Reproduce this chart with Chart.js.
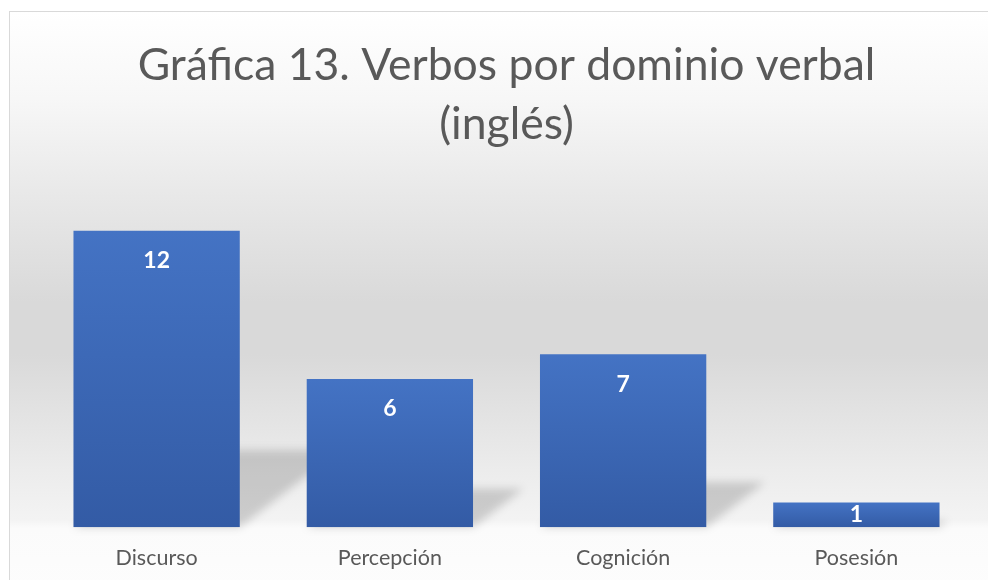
<!DOCTYPE html>
<html>
<head>
<meta charset="utf-8">
<script src="https://cdn.jsdelivr.net/npm/chart.js@4.4.1/dist/chart.umd.min.js"></script>
<style>
    html, body { margin: 0; padding: 0; background: #fff; }
    body { width: 988px; height: 580px; position: relative; overflow: hidden; }
    .frame {
        position: absolute; left: 9px; top: 11px; width: 990px; height: 580px;
        border: 1px solid #d9d9d9;
        background: linear-gradient(to bottom,
            #ffffff 0%, #f7f7f7 15%, #e8e8e8 32%, #d9d9d9 50%, #d9d9d9 59%,
            #ececec 79%, #f3f3f3 87.5%, #fbfbfb 89%, #fdfdfd 100%);
    }
    #chart { position: absolute; left: 0; top: 0; }
</style>
</head>
<body>
<div class="frame"></div>
<canvas id="chart" width="988" height="580"></canvas>
<script>
// data
const categories = ["Discurso", "Percepción", "Cognición", "Posesión"];
const counts = [12, 6, 7, 1];
const titleLines = ["Gráfica 13. Verbos por dominio verbal", "(inglés)"];

// bar fill: each bar goes light blue at top to darker at base
function barFill(ctx) {
    const chart = ctx.chart;
    if (!chart.chartArea || !chart.scales.y) return "#3d68b6";
    const y = chart.scales.y;
    const top = y.getPixelForValue(ctx.raw);
    const base = y.getPixelForValue(0);
    const g = chart.ctx.createLinearGradient(0, top, 0, base);
    g.addColorStop(0, "#4473c4");
    g.addColorStop(1, "#335ba5");
    return g;
}

// soft perspective shadow cast up and to the right of each bar
const barShadow = {
    id: "barShadow",
    beforeDatasetsDraw(chart) {
        const c = chart.ctx;
        chart.getDatasetMeta(0).data.forEach(bar => {
            const h = bar.base - bar.y;
            const sh = h * 0.26;
            const dx = sh * 1.3;
            const half = bar.width / 2;
            c.save();
            c.filter = "blur(4px)";
            c.fillStyle = "rgba(0,0,0,0.16)";
            c.beginPath();
            c.moveTo(bar.x - half, bar.base);
            c.lineTo(bar.x + half, bar.base);
            c.lineTo(bar.x + half + dx, bar.base - sh);
            c.lineTo(bar.x - half + dx, bar.base - sh);
            c.closePath();
            c.fill();
            c.restore();
        });
    }
};

// value labels inside the top of each bar
const barValues = {
    id: "barValues",
    afterDatasetsDraw(chart) {
        const c = chart.ctx;
        c.save();
        c.font = "bold 23px Lato";
        c.fillStyle = "#ffffff";
        c.textAlign = "center";
        c.textBaseline = "middle";
        chart.getDatasetMeta(0).data.forEach((bar, i) => {
            const ty = Math.min(bar.y + 30, (bar.y + bar.base) / 2);
            c.fillText(String(counts[i]), bar.x, ty);
        });
        c.restore();
    }
};

new Chart(document.getElementById("chart"), {
    type: "bar",
    data: {
        labels: categories,
        datasets: [{
            data: counts,
            backgroundColor: barFill,
            borderWidth: 0,
            categoryPercentage: 1,
            barPercentage: 0.713
        }]
    },
    options: {
        responsive: false,
        animation: false,
        layout: { padding: { left: 40, right: 15, top: 0, bottom: -9 } },
        plugins: {
            legend: { display: false },
            tooltip: { enabled: false },
            title: {
                display: true,
                text: titleLines,
                color: "#595959",
                font: { family: "Lato", size: 44.5, weight: "normal", lineHeight: 1.33 },
                padding: { top: 36, bottom: 27 }
            }
        },
        scales: {
            x: {
                grid: { display: false, drawTicks: false },
                border: { display: false },
                ticks: { color: "#595959", font: { family: "Lato", size: 21.5 }, padding: 18 }
            },
            y: { display: false, min: 0, max: 14 }
        }
    },
    plugins: [barShadow, barValues]
});
</script>
</body>
</html>
